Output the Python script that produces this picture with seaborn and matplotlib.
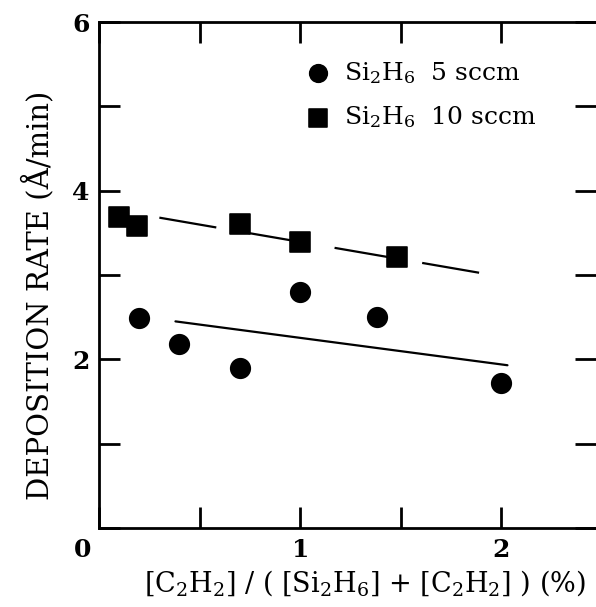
import numpy as np
import matplotlib
matplotlib.use("Agg")
import matplotlib.pyplot as plt
import seaborn as sns
import pandas as pd

# data
x_5sccm = [0.2, 0.4, 0.7, 1.0, 1.38, 2.0]
y_5sccm = [2.49, 2.18, 1.90, 2.80, 2.50, 1.72]
x_10sccm = [0.1, 0.19, 0.7, 1.0, 1.48]
y_10sccm = [3.69, 3.58, 3.60, 3.39, 3.21]

# guide lines drawn through each set
fit_5_x = [0.38, 2.03]
fit_5_y = [2.45, 1.93]
fit_10_x = [0.30, 1.93]
fit_10_y = [3.68, 3.01]

label_5 = r"Si$_2$H$_6$  5 sccm"
label_10 = r"Si$_2$H$_6$  10 sccm"

sns.set_theme(style="ticks", rc={"text.color": "black", "axes.labelcolor": "black",
                                 "xtick.color": "black", "ytick.color": "black",
                                 "axes.edgecolor": "black"})
plt.rcParams["font.family"] = ["DejaVu Serif"]
plt.rcParams["mathtext.fontset"] = "dejavuserif"

df5 = pd.DataFrame({"x": x_5sccm, "y": y_5sccm})
df10 = pd.DataFrame({"x": x_10sccm, "y": y_10sccm})

fig = plt.figure(figsize=(5.96, 6.07), dpi=100)
ax = fig.add_axes([99 / 596, 79 / 607, 497 / 596, 506 / 607])

ax.plot(fit_5_x, fit_5_y, color="black", lw=1.6)
ax.plot(fit_10_x, fit_10_y, color="black", lw=1.6, dashes=(26, 14))

sns.scatterplot(data=df5, x="x", y="y", marker="o", s=200, color="black",
                edgecolor="black", ax=ax, label=label_5, zorder=3)
sns.scatterplot(data=df10, x="x", y="y", marker="s", s=210, color="black",
                edgecolor="black", ax=ax, label=label_10, zorder=3)

ax.set_xlim(0, 2.47)
ax.set_ylim(0, 6)
ax.set_xticks([0, 0.5, 1, 1.5, 2])
ax.set_xticklabels(["", "", "1", "", "2"])
ax.set_yticks([0, 1, 2, 3, 4, 5, 6])
ax.set_yticklabels(["", "", "2", "", "4", "", "6"])
ax.tick_params(direction="in", length=15, width=2, top=True, right=True,
               labelsize=18)
ax.tick_params(axis="y", pad=7)
ax.tick_params(axis="x", pad=7)
for lab in ax.get_xticklabels() + ax.get_yticklabels():
    lab.set_fontweight("bold")
ax.annotate("0", xy=(0, 0), xycoords="data", xytext=(-12, -16),
            textcoords="offset points", ha="center", va="center",
            fontsize=18, fontweight="bold")

for side in ["left", "bottom", "top"]:
    ax.spines[side].set_linewidth(2)
ax.spines["right"].set_visible(False)

ax.set_xlabel(r"[C$_2$H$_2$] / ( [Si$_2$H$_6$] + [C$_2$H$_2$] ) (%)",
              fontsize=19.5)
ax.set_ylabel("DEPOSITION RATE (Å/min)", fontsize=21)
ax.xaxis.set_label_coords(0.535, -0.08)
ax.yaxis.set_label_coords(-0.09, 0.46)

leg = ax.legend(loc="upper left", bbox_to_anchor=(0.365, 0.97), frameon=False,
                fontsize=18, handletextpad=0.45, markerscale=0.9,
                labelspacing=0.75, handlelength=1.2)

fig.savefig("out.png", dpi=100)
